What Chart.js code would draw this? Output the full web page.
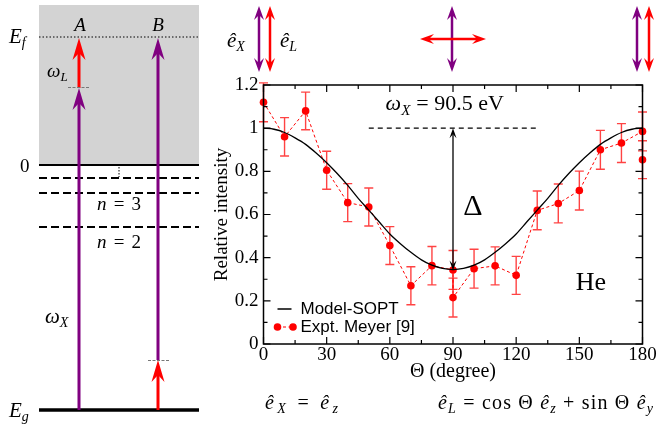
<!DOCTYPE html>
<html><head><meta charset="utf-8">
<script src="https://cdn.jsdelivr.net/npm/chart.js@4.4.0/dist/chart.umd.min.js"></script>
<style>
html,body{margin:0;padding:0;background:#fff;}
#wrap{position:relative;width:657px;height:427px;overflow:hidden;background:#fff;}
#c{position:absolute;left:0;top:0;}
#deco{position:absolute;left:0;top:0;pointer-events:none;}
</style></head><body>
<div id="wrap">
<canvas id="c" width="657" height="427"></canvas>
<svg id="deco" width="657" height="427" viewBox="0 0 657 427" font-family="Liberation Serif, Times New Roman, serif">
  <rect x="39" y="5" width="160" height="160" fill="#d3d3d3"/>
  <line x1="39" y1="37" x2="199" y2="37" stroke="#000" stroke-width="1" stroke-dasharray="1.5 2"/>
  <line x1="39" y1="165" x2="199" y2="165" stroke="#000" stroke-width="2"/>
  <line x1="39" y1="178" x2="199" y2="178" stroke="#000" stroke-width="2" stroke-dasharray="8 4"/>
  <line x1="39" y1="193" x2="199" y2="193" stroke="#000" stroke-width="2" stroke-dasharray="8 4"/>
  <line x1="39" y1="227" x2="199" y2="227" stroke="#000" stroke-width="2" stroke-dasharray="8 4"/>
  <line x1="39" y1="410" x2="199" y2="410" stroke="#000" stroke-width="3.5"/>
  <line x1="119" y1="167" x2="119" y2="177" stroke="#000" stroke-width="1" stroke-dasharray="1.5 1.5"/>
  <text font-family="Liberation Serif, serif" x="80" y="31" font-size="19" font-style="italic" text-anchor="middle">A</text>
  <text font-family="Liberation Serif, serif" x="158" y="31" font-size="19" font-style="italic" text-anchor="middle">B</text>
  <text font-family="Liberation Serif, serif" x="9" y="43" font-size="21"><tspan font-style="italic">E</tspan><tspan font-style="italic" font-size="14" dy="4">f</tspan></text>
  <text font-family="Liberation Serif, serif" x="20" y="172" font-size="19">0</text>
  <text font-family="Liberation Serif, serif" x="97" y="210" font-size="19" textLength="44" lengthAdjust="spacing"><tspan font-style="italic">n</tspan> = 3</text>
  <text font-family="Liberation Serif, serif" x="97" y="248" font-size="19" textLength="44" lengthAdjust="spacing"><tspan font-style="italic">n</tspan> = 2</text>
  <text font-family="Liberation Serif, serif" x="47" y="77" font-size="19"><tspan font-style="italic">ω</tspan><tspan font-style="italic" font-size="13" dy="4">L</tspan></text>
  <text font-family="Liberation Serif, serif" x="45" y="323" font-size="21"><tspan font-style="italic">ω</tspan><tspan font-style="italic" font-size="14" dy="4">X</tspan></text>
  <text font-family="Liberation Serif, serif" x="9" y="417" font-size="21"><tspan font-style="italic">E</tspan><tspan font-style="italic" font-size="14" dy="4">g</tspan></text>
  <text font-family="Liberation Serif, serif" x="227" y="47" font-size="21"><tspan font-style="italic">ê</tspan><tspan font-style="italic" font-size="14" dy="4">X</tspan></text>
  <text font-family="Liberation Serif, serif" x="280" y="47" font-size="21"><tspan font-style="italic">ê</tspan><tspan font-style="italic" font-size="14" dy="4">L</tspan></text>
  <text font-family="Liberation Serif, serif" x="265" y="409" font-size="20" textLength="73" lengthAdjust="spacing"><tspan font-style="italic">ê</tspan><tspan font-style="italic" font-size="14" dy="4">X</tspan><tspan dy="-4"> = </tspan><tspan font-style="italic">ê</tspan><tspan font-style="italic" font-size="14" dy="4">z</tspan></text>
  <text font-family="Liberation Serif, serif" x="438" y="409" font-size="20" textLength="215" lengthAdjust="spacing"><tspan font-style="italic">ê</tspan><tspan font-style="italic" font-size="14" dy="4">L</tspan><tspan dy="-4"> = cos Θ </tspan><tspan font-style="italic">ê</tspan><tspan font-style="italic" font-size="14" dy="4">z</tspan><tspan dy="-4"> + sin Θ </tspan><tspan font-style="italic">ê</tspan><tspan font-style="italic" font-size="14" dy="4">y</tspan></text>
</svg>
</div>
<script>
// ---------------- data ----------------
const xTickValues = [0, 30, 60, 90, 120, 150, 180];
const xTickLabels = ['0', '30', '60', '90', '120', '150', '180'];
const yTickValues = [0, 0.2, 0.4, 0.6, 0.8, 1.0, 1.2];
const yTickLabels = ['0', '0.2', '0.4', '0.6', '0.8', '1', '1.2'];

const modelTheta = [0,5,10,15,20,25,30,35,40,45,50,55,60,65,70,75,80,85,90,95,100,105,110,115,120,125,130,135,140,145,150,155,160,165,170,175,180];
const modelIntensity = [1.00,0.995,0.98,0.955,0.925,0.885,0.84,0.79,0.735,0.675,0.62,0.565,0.51,0.465,0.425,0.39,0.365,0.35,0.345,0.35,0.365,0.39,0.425,0.465,0.51,0.565,0.62,0.675,0.735,0.79,0.84,0.885,0.925,0.955,0.98,0.995,1.00];

const exptTheta = [0,10,20,30,40,50,60,70,80,90,90,100,110,120,130,140,150,160,170,180];
const exptIntensity = [1.12,0.96,1.08,0.805,0.655,0.635,0.456,0.27,0.363,0.343,0.215,0.349,0.362,0.318,0.619,0.651,0.711,0.900,0.931,0.985];
const exptError = [0.09,0.089,0.087,0.088,0.088,0.088,0.088,0.088,0.089,0.09,0.09,0.09,0.088,0.088,0.09,0.09,0.09,0.09,0.09,0.09];

const extraTheta = [180];
const extraIntensity = [0.854];
const extraError = [0.088];

const seriesLabels = ['Model-SOPT', 'Expt. Meyer [9]'];

// ---------------- decorations (svg arrows) ----------------
const SVGNS = 'http://www.w3.org/2000/svg';
const svg = document.getElementById('deco');
function el(tag, attrs) {
  const e = document.createElementNS(SVGNS, tag);
  for (const k in attrs) e.setAttribute(k, attrs[k]);
  svg.appendChild(e); return e;
}
function head(tx, ty, dir, w, L, n, color) {
  const loc = [[0,0],[w,L],[0,n],[-w,L]];
  const pts = loc.map(([a,b]) => {
    if (dir === 'up') return [tx + a, ty + b];
    if (dir === 'down') return [tx + a, ty - b];
    if (dir === 'left') return [tx + b, ty + a];
    return [tx - b, ty + a];
  });
  el('polygon', {points: pts.map(p => p.join(',')).join(' '), fill: color});
}
function vArrow(x, y0, tip, color, lw, w, L, n, both) {
  const up = tip < y0;
  const s = both ? (up ? y0 - n : y0 + n) : y0;
  el('line', {x1: x, y1: s, x2: x, y2: up ? tip + n : tip - n, stroke: color, 'stroke-width': lw});
  head(x, tip, up ? 'up' : 'down', w, L, n, color);
  if (both) head(x, y0, up ? 'down' : 'up', w, L, n, color);
}
function hArrow(y, x0, x1, color, lw, w, L, n) {
  el('line', {x1: x0 + n, y1: y, x2: x1 - n, y2: y, stroke: color, 'stroke-width': lw});
  head(x0, y, 'left', w, L, n, color);
  head(x1, y, 'right', w, L, n, color);
}
const PURPLE = '#800080', RED = '#ff0000';
vArrow(79, 410, 88, PURPLE, 3, 6.5, 22, 15, false);
vArrow(79, 88, 38, RED, 3, 6.5, 22, 15, false);
vArrow(158, 360, 38, PURPLE, 3, 6.5, 22, 15, false);
vArrow(158, 410, 360, RED, 3, 6.5, 22, 15, false);
el('line', {x1: 68, y1: 87.5, x2: 90, y2: 87.5, stroke: '#777', 'stroke-width': 1, 'stroke-dasharray': '3 1.5'});
el('line', {x1: 148, y1: 360.5, x2: 170, y2: 360.5, stroke: '#777', 'stroke-width': 1, 'stroke-dasharray': '3 1.5'});
vArrow(259, 72, 6, PURPLE, 2.5, 5, 14, 9, true);
vArrow(270, 72, 6, RED, 2.5, 5, 14, 9, true);
vArrow(452, 72, 6, PURPLE, 2.5, 5, 14, 9, true);
hArrow(39, 420, 486, RED, 2.5, 5, 14, 9);
vArrow(637, 72, 6, PURPLE, 2.5, 5, 14, 9, true);
vArrow(649, 72, 6, RED, 2.5, 5, 14, 9, true);

// ---------------- chart ----------------
const SERIF = "'Liberation Serif', serif";
const SANS = "'Liberation Sans', sans-serif";

const pts = (xs, ys) => xs.map((t, i) => ({x: t, y: ys[i]}));

const errorBars = {
  id: 'errorBars',
  beforeDatasetsDraw(chart) {
    const {ctx} = chart, xs = chart.scales.x, ys = chart.scales.y;
    ctx.save();
    ctx.strokeStyle = 'rgba(255,20,20,0.8)';
    ctx.lineWidth = 1.4;
    const one = (t, v, e) => {
      const px = xs.getPixelForValue(t), a = ys.getPixelForValue(v + e), b = ys.getPixelForValue(v - e);
      ctx.beginPath();
      ctx.moveTo(px, a); ctx.lineTo(px, b);
      ctx.moveTo(px - 4.5, a); ctx.lineTo(px + 4.5, a);
      ctx.moveTo(px - 4.5, b); ctx.lineTo(px + 4.5, b);
      ctx.stroke();
    };
    exptTheta.forEach((t, i) => one(t, exptIntensity[i], exptError[i]));
    extraTheta.forEach((t, i) => one(t, extraIntensity[i], extraError[i]));
    ctx.restore();
  }
};

function stealth(ctx, x, y, dir, w, L, n) {
  const s = dir === 'up' ? 1 : -1;
  ctx.beginPath();
  ctx.moveTo(x, y);
  ctx.lineTo(x + w, y + s * L);
  ctx.lineTo(x, y + s * n);
  ctx.lineTo(x - w, y + s * L);
  ctx.closePath();
  ctx.fill();
}

const annotations = {
  id: 'annotations',
  afterDatasetsDraw(chart) {
    const {ctx} = chart, xs = chart.scales.x, ys = chart.scales.y;
    ctx.save();
    ctx.strokeStyle = '#000'; ctx.lineWidth = 1.3; ctx.setLineDash([5, 4]);
    ctx.beginPath();
    ctx.moveTo(xs.getPixelForValue(50), ys.getPixelForValue(1));
    ctx.lineTo(xs.getPixelForValue(130), ys.getPixelForValue(1));
    ctx.stroke();
    ctx.setLineDash([]);
    const ax = xs.getPixelForValue(90), top = ys.getPixelForValue(1), bot = ys.getPixelForValue(0.34);
    ctx.fillStyle = '#000';
    ctx.beginPath(); ctx.moveTo(ax, top + 6); ctx.lineTo(ax, bot - 6); ctx.stroke();
    stealth(ctx, ax, top, 'up', 3.5, 10, 6);
    stealth(ctx, ax, bot, 'down', 3.5, 10, 6);
    ctx.textBaseline = 'alphabetic'; ctx.textAlign = 'left';
    let tx = xs.getPixelForValue(58), ty = ys.getPixelForValue(1.085);
    ctx.font = 'italic 22px ' + SERIF; ctx.fillText('ω', tx, ty); tx += ctx.measureText('ω').width;
    ctx.font = 'italic 15px ' + SERIF; ctx.fillText('X', tx, ty + 5); tx += ctx.measureText('X').width + 3;
    ctx.font = '22px ' + SERIF; ctx.fillText('= 90.5 eV', tx + 3, ty);
    ctx.textAlign = 'center'; ctx.textBaseline = 'middle';
    ctx.font = '30px ' + SERIF; ctx.fillText('Δ', xs.getPixelForValue(99.5), ys.getPixelForValue(0.635));
    ctx.font = '26px ' + SERIF; ctx.fillText('He', xs.getPixelForValue(155.5), ys.getPixelForValue(0.283));
    ctx.restore();
  },
  afterDraw(chart) {
    const {ctx, chartArea: ca} = chart, xs = chart.scales.x, ys = chart.scales.y;
    ctx.save();
    ctx.strokeStyle = '#000'; ctx.lineWidth = 1.5;
    ctx.strokeRect(ca.left, ca.top, ca.right - ca.left, ca.bottom - ca.top);
    ctx.lineWidth = 1.2;
    ctx.beginPath();
    for (let t = 0; t <= 180; t += 15) {
      const px = xs.getPixelForValue(t), len = (t % 30 === 0) ? 7 : 4;
      ctx.moveTo(px, ca.bottom); ctx.lineTo(px, ca.bottom - len);
      ctx.moveTo(px, ca.top); ctx.lineTo(px, ca.top + len);
    }
    for (let k = 0; k <= 12; k++) {
      const py = ys.getPixelForValue(k / 10), len = (k % 2 === 0) ? 7 : 4;
      ctx.moveTo(ca.left, py); ctx.lineTo(ca.left + len, py);
      ctx.moveTo(ca.right, py); ctx.lineTo(ca.right - len, py);
    }
    ctx.stroke();
    const y1 = ca.bottom - 35, y2 = ca.bottom - 17, lx = ca.left;
    ctx.strokeStyle = '#000'; ctx.lineWidth = 1.5;
    ctx.beginPath(); ctx.moveTo(lx + 14, y1); ctx.lineTo(lx + 28, y1); ctx.stroke();
    ctx.strokeStyle = RED; ctx.lineWidth = 1; ctx.setLineDash([3, 2.5]);
    ctx.beginPath(); ctx.moveTo(lx + 14, y2); ctx.lineTo(lx + 29.5, y2); ctx.stroke();
    ctx.setLineDash([]);
    ctx.fillStyle = RED;
    [14, 29.5].forEach(d => { ctx.beginPath(); ctx.arc(lx + d, y2, 3.8, 0, Math.PI * 2); ctx.fill(); });
    ctx.fillStyle = '#000'; ctx.font = '17px ' + SANS; ctx.textBaseline = 'middle'; ctx.textAlign = 'left';
    ctx.fillText(seriesLabels[0], lx + 37, y1);
    ctx.fillText(seriesLabels[1], lx + 37, y2);
    ctx.restore();
  }
};

const PLOT_LEFT = 263.5, PLOT_BOTTOM_SPACE = 83;

new Chart(document.getElementById('c'), {
  type: 'scatter',
  data: {
    datasets: [
      {label: seriesLabels[0], data: pts(modelTheta, modelIntensity), showLine: true, borderColor: '#000', borderWidth: 1.3,
       pointRadius: 0, cubicInterpolationMode: 'monotone', fill: false},
      {label: seriesLabels[1], data: pts(exptTheta, exptIntensity), showLine: true, borderColor: RED, borderWidth: 1,
       borderDash: [3, 2.5], pointRadius: 3.8, pointBackgroundColor: RED, pointBorderWidth: 0, clip: false},
      {label: '', data: pts(extraTheta, extraIntensity), showLine: false, pointRadius: 3.8, pointBackgroundColor: RED,
       pointBorderWidth: 0, clip: false}
    ]
  },
  options: {
    responsive: false, animation: false, devicePixelRatio: 1,
    layout: {padding: {left: 0, right: 14.5, top: 85, bottom: 0}},
    plugins: {legend: {display: false}, tooltip: {enabled: false}},
    scales: {
      x: {
        type: 'linear', min: 0, max: 180,
        afterBuildTicks: s => { s.ticks = xTickValues.map(v => ({value: v})); },
        afterFit: s => { s.height = PLOT_BOTTOM_SPACE; },
        ticks: {callback: (v) => xTickLabels[xTickValues.indexOf(v)], font: {family: SERIF, size: 19}, color: '#000', padding: 0, maxRotation: 0, autoSkip: false},
        grid: {display: false, drawTicks: false}, border: {display: false},
        title: {display: true, text: 'Θ (degree)', font: {family: SERIF, size: 20}, color: '#000', padding: {top: 0, bottom: 43}}
      },
      y: {
        type: 'linear', min: 0, max: 1.2,
        afterBuildTicks: s => { s.ticks = yTickValues.map(v => ({value: v})); },
        afterFit: s => { s.width = PLOT_LEFT; },
        ticks: {callback: (v) => yTickLabels[yTickValues.findIndex(t => Math.abs(t - v) < 1e-9)], font: {family: SERIF, size: 19}, color: '#000', padding: 5, autoSkip: false},
        grid: {display: false, drawTicks: false}, border: {display: false},
        title: {display: true, text: 'Relative intensity', font: {family: SERIF, size: 19}, color: '#000', padding: {top: 211, bottom: 0}}
      }
    }
  },
  plugins: [errorBars, annotations]
});
</script>
</body></html>
